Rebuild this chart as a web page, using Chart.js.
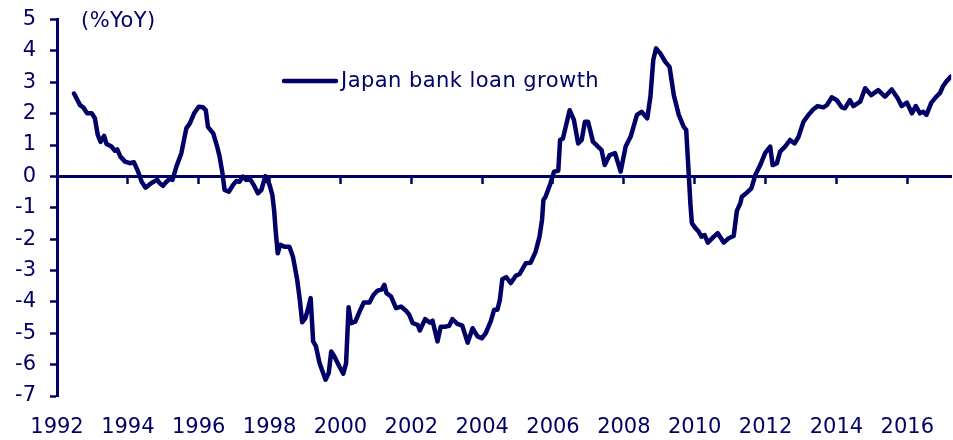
<!DOCTYPE html>
<html>
<head>
<meta charset="utf-8">
<script src="https://cdn.jsdelivr.net/npm/chart.js@4.4.1/dist/chart.umd.min.js"></script>
<style>
  html, body { margin: 0; padding: 0; background: #ffffff; }
  #wrap { position: relative; width: 953px; height: 440px; }
</style>
</head>
<body>
<div id="wrap"><canvas id="c"></canvas></div>
<script>
// ---- Data ----
const seriesName = "Japan bank loan growth";
const unitLabel = "(%YoY)";
const yearTicks = [1992, 1994, 1996, 1998, 2000, 2002, 2004, 2006, 2008, 2010, 2012, 2014, 2016];
const valueTicks = [-7, -6, -5, -4, -3, -2, -1, 0, 1, 2, 3, 4, 5];

const dates = [
  1992.48, 1992.65, 1992.74, 1992.85, 1992.98, 1993.07, 1993.15, 1993.23, 1993.33, 1993.40,
  1993.54, 1993.63, 1993.70, 1993.79, 1993.92, 1994.06, 1994.17, 1994.29, 1994.39, 1994.50,
  1994.62, 1994.73, 1994.83, 1994.90, 1994.99, 1995.09, 1995.18, 1995.26, 1995.37, 1995.51,
  1995.65, 1995.75, 1995.87, 1996.00, 1996.12, 1996.20, 1996.26, 1996.41, 1996.52, 1996.59,
  1996.67, 1996.73, 1996.85, 1996.97, 1997.06, 1997.15, 1997.25, 1997.34, 1997.46, 1997.55,
  1997.67, 1997.77, 1997.88, 1998.00, 1998.08, 1998.13, 1998.17, 1998.23, 1998.30, 1998.42,
  1998.56, 1998.66, 1998.78, 1998.85, 1998.92, 1999.01, 1999.08, 1999.16, 1999.23, 1999.31,
  1999.41, 1999.58, 1999.67, 1999.74, 1999.83, 1999.97, 2000.08, 2000.16, 2000.23, 2000.30,
  2000.42, 2000.54, 2000.66, 2000.82, 2000.93, 2001.05, 2001.17, 2001.24, 2001.30, 2001.43,
  2001.57, 2001.71, 2001.85, 2001.94, 2002.04, 2002.18, 2002.24, 2002.39, 2002.53, 2002.60,
  2002.74, 2002.83, 2002.97, 2003.07, 2003.16, 2003.30, 2003.44, 2003.59, 2003.73, 2003.87,
  2003.99, 2004.10, 2004.24, 2004.34, 2004.43, 2004.50, 2004.57, 2004.68, 2004.81, 2004.95,
  2005.06, 2005.23, 2005.37, 2005.51, 2005.62, 2005.69, 2005.73, 2005.79, 2005.93, 2006.03,
  2006.15, 2006.20, 2006.28, 2006.47, 2006.59, 2006.71, 2006.81, 2006.90, 2006.99, 2007.13,
  2007.25, 2007.37, 2007.46, 2007.60, 2007.75, 2007.91, 2008.05, 2008.19, 2008.37, 2008.50,
  2008.66, 2008.75, 2008.83, 2008.91, 2009.03, 2009.17, 2009.29, 2009.41, 2009.55, 2009.69,
  2009.76, 2009.83, 2009.88, 2009.92, 2010.02, 2010.11, 2010.19, 2010.28, 2010.37, 2010.54,
  2010.65, 2010.82, 2010.96, 2011.10, 2011.19, 2011.29, 2011.33, 2011.47, 2011.60, 2011.71,
  2011.85, 2011.99, 2012.13, 2012.20, 2012.32, 2012.41, 2012.55, 2012.69, 2012.82, 2012.93,
  2013.07, 2013.21, 2013.35, 2013.47, 2013.63, 2013.73, 2013.87, 2014.01, 2014.15, 2014.24,
  2014.38, 2014.48, 2014.67, 2014.81, 2014.98, 2015.18, 2015.37, 2015.56, 2015.73, 2015.84,
  2015.99, 2016.13, 2016.24, 2016.36, 2016.45, 2016.54, 2016.68, 2016.82, 2016.92, 2017.01,
  2017.10, 2017.23
];

const growth = [
  2.64, 2.27, 2.20, 2.01, 2.01, 1.85, 1.32, 1.10, 1.29, 1.03,
  0.95, 0.82, 0.86, 0.63, 0.47, 0.42, 0.45, 0.15, -0.17, -0.36,
  -0.25, -0.17, -0.11, -0.22, -0.30, -0.17, -0.08, -0.11, 0.31, 0.74,
  1.53, 1.69, 2.01, 2.22, 2.20, 2.11, 1.58, 1.37, 0.95, 0.63,
  0.10, -0.43, -0.49, -0.27, -0.15, -0.17, -0.01, -0.11, -0.11, -0.27,
  -0.54, -0.43, 0.01, -0.27, -0.60, -1.10, -1.71, -2.45, -2.18, -2.24,
  -2.24, -2.56, -3.30, -3.90, -4.65, -4.52, -4.25, -3.88, -5.26, -5.42,
  -5.95, -6.48, -6.27, -5.58, -5.74, -6.06, -6.29, -5.95, -4.17, -4.68,
  -4.63, -4.31, -4.02, -4.02, -3.78, -3.64, -3.60, -3.46, -3.72, -3.83,
  -4.20, -4.15, -4.28, -4.41, -4.68, -4.73, -4.91, -4.55, -4.66, -4.60,
  -5.26, -4.79, -4.79, -4.76, -4.55, -4.70, -4.76, -5.30, -4.84, -5.10,
  -5.16, -5.00, -4.63, -4.25, -4.25, -3.94, -3.28, -3.21, -3.40, -3.17,
  -3.11, -2.77, -2.75, -2.40, -1.92, -1.39, -0.75, -0.65, -0.22, 0.15,
  0.18, 1.16, 1.21, 2.11, 1.80, 1.05, 1.16, 1.74, 1.74, 1.10,
  0.97, 0.84, 0.36, 0.68, 0.74, 0.15, 0.95, 1.26, 1.96, 2.06,
  1.85, 2.54, 3.71, 4.08, 3.92, 3.65, 3.49, 2.59, 1.96, 1.58,
  1.48, 0.10, -0.90, -1.49, -1.65, -1.76, -1.92, -1.87, -2.11, -1.92,
  -1.81, -2.11, -1.97, -1.90, -1.10, -0.85, -0.65, -0.52, -0.38, 0.04,
  0.36, 0.75, 0.95, 0.36, 0.42, 0.79, 0.95, 1.16, 1.05, 1.26,
  1.74, 1.96, 2.14, 2.24, 2.20, 2.27, 2.52, 2.43, 2.20, 2.17,
  2.43, 2.24, 2.38, 2.81, 2.59, 2.75, 2.54, 2.77, 2.49, 2.24,
  2.35, 2.01, 2.24, 2.01, 2.06, 1.96, 2.35, 2.54, 2.65, 2.88,
  3.02, 3.18
];

// ---- Styling ----
const NAVY = '#000066';
const FONT = { family: '"DejaVu Sans", Verdana, sans-serif', size: 21 };
const X_MIN = 1992, X_MAX = 2017.24, Y_MIN = -7, Y_MAX = 5;

const setTicks = (arr) => (scale) => { scale.ticks = arr.map(v => ({ value: v })); };

const annotate = {
  id: 'annotate',
  afterDraw(chart) {
    const ctx = chart.ctx;
    ctx.save();
    ctx.font = FONT.size + 'px ' + FONT.family;
    ctx.fillStyle = NAVY;
    ctx.textBaseline = 'alphabetic';
    ctx.textAlign = 'left';
    if ('letterSpacing' in ctx) ctx.letterSpacing = '0.45px';
    ctx.fillText(unitLabel, 81, 27);
    ctx.strokeStyle = NAVY;
    ctx.lineWidth = 4.5;
    ctx.lineCap = 'round';
    ctx.beginPath();
    ctx.moveTo(284, 81);
    ctx.lineTo(336, 81);
    ctx.stroke();
    ctx.fillText(seriesName, 341, 87);
    ctx.restore();
  }
};

new Chart(document.getElementById('c'), {
  type: 'line',
  data: {
    datasets: [{
      label: seriesName,
      data: dates.map((d, i) => ({ x: d, y: growth[i] })),
      borderColor: NAVY,
      borderWidth: 4.5,
      pointRadius: 0,
      tension: 0,
      borderJoinStyle: 'round',
      borderCapStyle: 'round',
      xAxisID: 'x',
      yAxisID: 'y'
    }]
  },
  options: {
    responsive: true,
    maintainAspectRatio: false,
    devicePixelRatio: 1,
    animation: false,
    events: [],
    layout: { padding: { top: 0, right: 0, bottom: 0, left: 0 } },
    plugins: { legend: { display: false }, tooltip: { enabled: false } },
    scales: {
      x: {
        type: 'linear',
        position: 'bottom',
        min: X_MIN, max: X_MAX,
        afterBuildTicks: setTicks(yearTicks),
        afterFit: (s) => { s.height = 44; },
        grid: { display: false, drawTicks: false, tickLength: 0 },
        border: { display: false },
        ticks: {
          color: NAVY, font: FONT, padding: 19,
          maxRotation: 0, autoSkip: false,
          callback: (v) => String(v)
        }
      },
      x0: {
        type: 'linear',
        position: { y: 0 },
        min: X_MIN, max: X_MAX,
        afterBuildTicks: setTicks(yearTicks),
        grid: { drawOnChartArea: false, drawTicks: true, tickLength: 6, tickWidth: 2.5, color: NAVY },
        border: { display: true, color: NAVY, width: 3 },
        ticks: { display: false }
      },
      y: {
        type: 'linear',
        position: 'left',
        min: Y_MIN, max: Y_MAX,
        afterBuildTicks: setTicks(valueTicks),
        afterFit: (s) => { s.width = 57; s.paddingTop = 19.5; s.paddingBottom = 0; },
        grid: { drawOnChartArea: false, drawTicks: true, tickLength: 7, tickWidth: 2.5, color: NAVY },
        border: { display: true, color: NAVY, width: 3 },
        ticks: { color: NAVY, font: FONT, padding: 14, callback: (v) => String(v) }
      }
    }
  },
  plugins: [annotate]
});
</script>
</body>
</html>
